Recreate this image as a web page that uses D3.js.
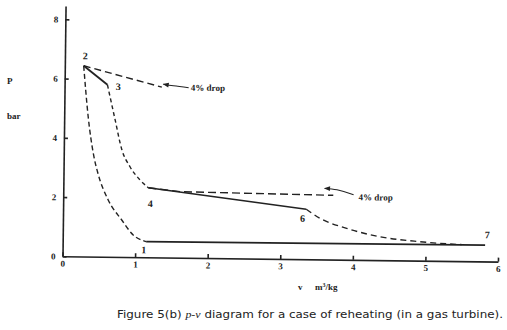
<!DOCTYPE html>
<html>
<head>
<meta charset="utf-8">
<script src="https://cdn.jsdelivr.net/npm/d3@7"></script>
<style>
  body { margin: 0; background: #fff; }
  svg { display: block; }
  .num { font-family: "Liberation Serif", "DejaVu Serif", serif; font-weight: bold; font-size: 10px; fill: #222; }
  .lab { font-family: "Liberation Serif", "DejaVu Serif", serif; font-weight: bold; font-size: 9px; fill: #222; }
  .axis path, .axis line { stroke: #222; stroke-width: 1.6; }
  .axis text { font-family: "Liberation Serif", serif; font-weight: bold; font-size: 9px; fill: #222; }
</style>
</head>
<body>
<div id="chart"></div>
<script>
var width = 507,
    height = 330;

// tick labels
var xTicks = [0, 1, 2, 3, 4, 5, 6]
var yTicks = [0, 2, 4, 6, 8]

// state points [v, p]
var pt1 = [1.15, 0.53]
var pt2 = [0.26, 6.44]
var pt3 = [0.59, 5.81]
var pt4 = [1.17, 2.35]
var pt6 = [3.35, 1.69]
var pt7 = [5.82, 0.55]

// compression 1 -> 2 (dashed), sorted by v
var compression = [[0.26, 6.44], [0.33, 4.73], [0.41, 3.45], [0.47, 2.85], [0.62, 1.92], [0.81, 1.25], [0.97, 0.75], [1.15, 0.53]]
// expansion 3 -> 4 (dashed)
var expansion1 = [[0.59, 5.81], [0.70, 4.65], [0.80, 3.62], [0.915, 3.05], [1.055, 2.61], [1.17, 2.35]]
// expansion 6 -> 7 (dashed)
var expansion2 = [[3.35, 1.69], [3.54, 1.39], [3.91, 1.06], [4.37, 0.79], [4.92, 0.64], [5.2, 0.59], [5.5, 0.56]]
// pressure drop lines (dashed)
var drop1 = [[0.26, 6.44], [1.34, 5.75]]
var drop2 = [[1.17, 2.35], [1.61, 2.23], [3.72, 2.17]]
// solid lines
var heatAdd = [pt2, pt3]
var reheat = [pt4, pt6]
var heatRej = [pt1, pt7]

// annotation arrows
var arrow1 = [[1.71, 5.74], [1.5, 5.8], [1.36, 5.85]]
var arrow2 = [[4.0, 2.2], [3.77, 2.36], [3.6, 2.4]]

var svg = d3.select('#chart')
    .append('svg')
    .attr('width', width)
    .attr('height', height)

// arrow marker
svg.append('defs').append('marker')
    .attr('id', 'head')
    .attr('viewBox', '0 0 10 10')
    .attr('refX', 9)
    .attr('refY', 5)
    .attr('markerWidth', 7)
    .attr('markerHeight', 6)
    .attr('orient', 'auto')
    .append('path')
    .attr('d', 'M0,1 L10,5 L0,9 Z')
    .attr('fill', '#222')

var x0 = 62.5, y0 = 256.3

// scanned figure is slightly tilted
var g = svg.append('g')
    .attr('transform', 'rotate(0.7,' + x0 + ',' + y0 + ')')

// scales
var xscale = d3.scaleLinear()
    .domain([0, 6])
    .range([x0, 498])

var yscale = d3.scaleLinear()
    .domain([0, 8])
    .range([y0, 19.3])

// axis
var xaxis = d3.axisBottom(xscale)
    .tickValues(xTicks)
    .tickFormat(d3.format('d'))
    .tickSizeInner(-4)
    .tickSizeOuter(0)
    .tickPadding(4)
g.append('g')
    .attr('class', 'axis')
    .attr('transform', 'translate(0,' + y0 + ')')
    .call(xaxis)

var yaxisscale = yscale.copy().domain([0, 8.45]).range([y0, yscale(8.45)])
var yaxis = d3.axisLeft(yaxisscale)
    .tickValues(yTicks)
    .tickFormat(d3.format('d'))
    .tickSizeInner(-4)
    .tickSizeOuter(0)
    .tickPadding(7)
g.append('g')
    .attr('class', 'axis')
    .attr('transform', 'translate(' + x0 + ',0)')
    .call(yaxis)

var line = d3.line()
    .x(d => xscale(d[0]))
    .y(d => yscale(d[1]))
var curve = d3.line()
    .x(d => xscale(d[0]))
    .y(d => yscale(d[1]))
    .curve(d3.curveMonotoneX)
var arc = d3.line()
    .x(d => xscale(d[0]))
    .y(d => yscale(d[1]))
    .curve(d3.curveCatmullRom)

function draw(data, gen, dash, w) {
    g.append('path')
        .attr('d', gen(data))
        .attr('fill', 'none')
        .attr('stroke', '#222')
        .attr('stroke-width', w || 1.4)
        .attr('stroke-dasharray', dash)
}

draw(compression, curve, '5,3')
draw(expansion1, curve, '4,3')
draw(expansion2, curve, '6,4')
draw(drop1, line, '7,4')
draw(drop2, line, '8,4')
draw(heatAdd, line, null, 1.8)
draw(reheat, line, null, 1.5)
draw(heatRej, line, null, 1.6)

// arrows
;[arrow1, arrow2].forEach(a => {
    g.append('path')
        .attr('d', arc(a))
        .attr('fill', 'none')
        .attr('stroke', '#222')
        .attr('stroke-width', 1)
        .attr('marker-end', 'url(#head)')
})

// point labels
var pointLabels = [
    {t: '1', v: 1.12, p: 0.25},
    {t: '2', v: 0.28, p: 6.78},
    {t: '3', v: 0.74, p: 5.75},
    {t: '4', v: 1.2, p: 1.82},
    {t: '6', v: 3.3, p: 1.38},
    {t: '7', v: 5.85, p: 0.9}
]
g.selectAll('.num')
    .data(pointLabels)
    .enter()
    .append('text')
    .attr('class', 'num')
    .attr('x', d => xscale(d.v))
    .attr('y', d => yscale(d.p))
    .attr('text-anchor', 'middle')
    .attr('dy', '0.35em')
    .text(d => d.t)

var dropLabels = [{v: 1.74, p: 5.75}, {v: 4.07, p: 2.12}]
g.selectAll('.drop')
    .data(dropLabels)
    .enter()
    .append('text')
    .attr('class', 'lab')
    .attr('x', d => xscale(d.v))
    .attr('y', d => yscale(d.p))
    .attr('dy', '0.35em')
    .text('4% drop')

// axis titles
svg.append('text').attr('class', 'lab').attr('x', 7).attr('y', 84).text('P')
svg.append('text').attr('class', 'lab').attr('x', 7).attr('y', 119).text('bar')
svg.append('text').attr('class', 'lab').attr('x', 298).attr('y', 290).text('v')
svg.append('text').attr('class', 'lab').attr('x', 315).attr('y', 290)
    .html('m<tspan dy="-3" font-size="6">3</tspan><tspan dy="3">/kg</tspan>')

// caption
svg.append('text')
    .attr('x', 117)
    .attr('y', 318)
    .attr('textLength', 386)
    .attr('lengthAdjust', 'spacingAndGlyphs')
    .style('font-family', '"DejaVu Sans", sans-serif')
    .style('font-size', '11px')
    .style('fill', '#222')
    .html('Figure 5(b) <tspan font-family="Liberation Serif" font-style="italic">p-v</tspan> diagram for a case of reheating (in a gas turbine).')
</script>
</body>
</html>
